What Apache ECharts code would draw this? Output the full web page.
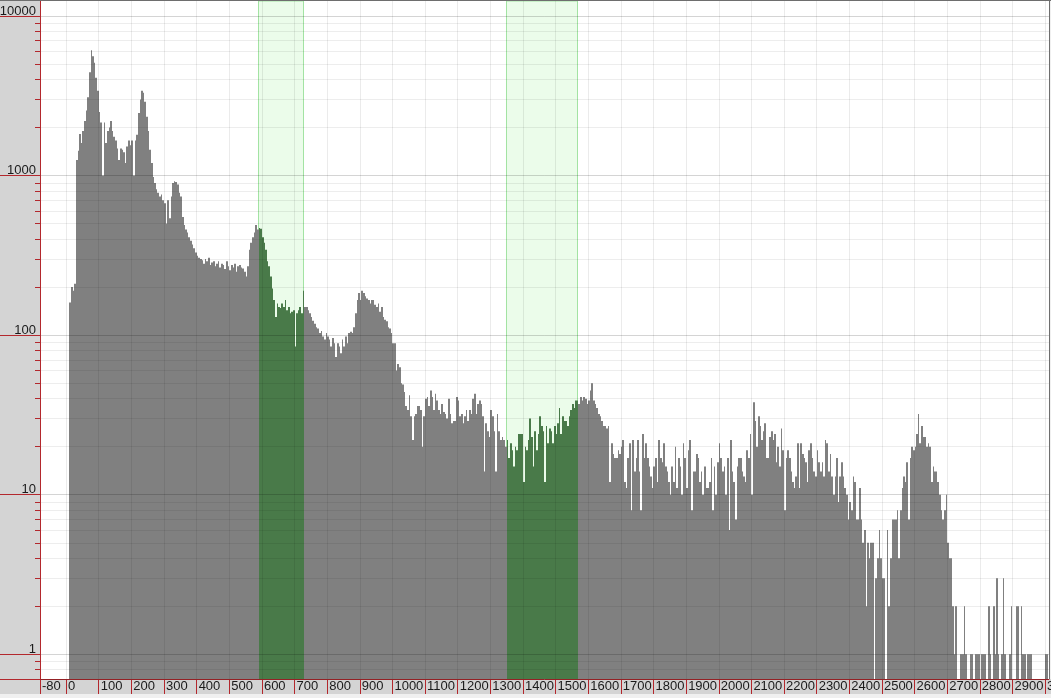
<!DOCTYPE html>
<html>
<head>
<meta charset="utf-8">
<title>Spectrum</title>
<script src="https://cdn.jsdelivr.net/npm/echarts@6/dist/echarts.min.js"></script>
<style>
  html, body { margin: 0; padding: 0; background: #f0f0f0; }
  #chart { width: 1051px; height: 698px; }
</style>
</head>
<body>
<div id="chart"></div>
<script>
// counts per channel (5 units wide)
var counts0 = [ // 0 - 495
  0, 0, 160, 200, 190, 210, 1250, 1430, 1820, 1600,
  1900, 2200, 2560, 3100, 4450, 6100, 5600, 5100, 4100, 3400,
  2500, 2150, 1000, 2150, 1600, 1900, 2000, 2200, 1900, 1750,
  1660, 1480, 1250, 1480, 1450, 1400, 1200, 1520, 1660, 1550,
  1660, 1000, 1660, 1800, 2470, 3000, 3400, 3300, 2900, 2340,
  1900, 1450, 1200, 980, 900, 820, 780, 740, 760, 700,
  670, 500, 700, 540, 740, 900, 920, 910, 880, 780,
  740, 550, 490, 460, 440, 410, 390, 370, 350, 330,
  315, 305, 300, 295, 280, 300, 290, 305, 275, 285,
  290, 270, 280, 290, 265, 280, 275, 260, 290, 270
]
var counts500 = [ // 500 - 995
  255, 275, 265, 280, 250, 270, 275, 265, 262, 250,
  233, 270, 343, 380, 410, 440, 490, 460, 470, 465,
  410, 380, 343, 290, 270, 233, 196, 166, 130, 158,
  150, 148, 158, 150, 166, 143, 150, 137, 140, 143,
  85, 137, 143, 150, 137, 190, 150, 150, 143, 137,
  130, 123, 118, 112, 110, 103, 106, 98, 94, 103,
  98, 94, 85, 96, 89, 73, 89, 85, 77, 94,
  85, 98, 89, 103, 105, 103, 112, 137, 166, 184,
  166, 190, 184, 175, 170, 166, 158, 166, 166, 155,
  150, 158, 140, 150, 130, 125, 122, 112, 110, 103
]
var counts1000 = [ // 1000 - 1495
  89, 89, 60, 66, 63, 50, 49, 44, 36, 34,
  42, 31, 22, 31, 32, 36, 36, 34, 20, 31,
  40, 41, 36, 45, 41, 34, 43, 39, 34, 32,
  37, 33, 32, 30, 40, 32, 28, 29, 29, 41,
  39, 31, 32, 28, 31, 34, 29, 34, 32, 40,
  43, 32, 37, 39, 37, 31, 14, 28, 25, 23,
  34, 31, 25, 14, 32, 25, 22, 23, 22, 20,
  22, 17, 21, 19, 15, 20, 19, 24, 24, 24,
  12, 20, 19, 22, 30, 23, 15, 25, 19, 24,
  31, 27, 25, 12, 27, 21, 26, 25, 21, 27
]
var counts1500 = [ // 1500 - 1995
  24, 28, 35, 24, 31, 29, 29, 27, 31, 34,
  37, 35, 39, 39, 37, 41, 39, 41, 40, 37,
  39, 45, 50, 39, 37, 35, 32, 31, 29, 27,
  27, 26, 27, 12, 21, 18, 17, 17, 19, 18,
  20, 22, 12, 11, 17, 21, 8, 22, 14, 17,
  22, 14, 8, 24, 17, 21, 17, 15, 13, 11,
  15, 17, 12, 22, 17, 16, 21, 15, 14, 12,
  10, 15, 12, 20, 11, 17, 15, 10, 21, 17,
  11, 19, 22, 8, 14, 14, 18, 17, 12, 14,
  10, 15, 11, 11, 12, 17, 8, 15, 10, 16
]
var counts2000 = [ // 2000 - 2495
  21, 17, 14, 15, 10, 17, 6, 22, 14, 12,
  7, 15, 17, 17, 14, 13, 12, 19, 17, 24,
  10, 38, 29, 20, 31, 27, 22, 25, 28, 17,
  17, 23, 25, 22, 24, 16, 20, 15, 26, 19,
  8, 17, 19, 17, 14, 12, 11, 13, 21, 11,
  21, 18, 17, 16, 12, 19, 21, 17, 14, 13,
  19, 16, 14, 16, 13, 22, 21, 14, 18, 13,
  10, 13, 17, 9, 13, 16, 13, 11, 10, 7,
  9, 8, 13, 12, 7, 7, 11, 7, 5, 6,
  2, 5, 4, 5, 5, 0, 3, 4, 6, 4
]
var counts2500 = [ // 2500 - 3010
  3, 3, 0, 6, 2, 4, 7, 7, 7, 8,
  4, 8, 11, 13, 12, 16, 7, 17, 20, 19,
  20, 24, 32, 21, 27, 23, 23, 20, 21, 20,
  12, 15, 14, 14, 12, 10, 8, 7, 8, 10,
  5, 4, 4, 2, 1, 2, 0, 0, 1, 1,
  2, 1, 0, 0, 1, 1, 0, 1, 1, 1,
  0, 1, 1, 1, 0, 2, 1, 0, 2, 1,
  3, 1, 0, 1, 3, 1, 0, 0, 1, 2,
  0, 0, 2, 2, 0, 2, 1, 1, 0, 1,
  1, 1, 0, 0, 0, 0, 0, 0, 0, 0,
  1, 1, 0
]
var binWidth = 5

// regions of interest (highlighted)
var roiRanges = [[590, 730], [1350, 1570]]

// axis ticks
var xTicks = [-80, 0, 100, 200, 300, 400, 500, 600, 700, 800, 900, 1000, 1100, 1200, 1300, 1400,
  1500, 1600, 1700, 1800, 1900, 2000, 2100, 2200, 2300, 2400, 2500, 2600, 2700, 2800, 2900, 3000]
var yDecades = [1, 10, 100, 1000, 10000]
var yMinor = [0.8, 0.9, 2, 3, 4, 5, 6, 7, 8, 9, 20, 30, 40, 50, 60, 70, 80, 90,
  200, 300, 400, 500, 600, 700, 800, 900, 2000, 3000, 4000, 5000, 6000, 7000, 8000, 9000]

var xMin = -80
var xMax = 3012
var countMin = 0.70
var countMax = 12420

var red = '#b3282d'
var font = "'Liberation Sans Narrow', 'Liberation Sans', Arial, sans-serif"

// y is drawn in log10 space
var yMin = Math.log10(countMin)
var yMax = Math.log10(countMax)
var decadeLogs = yDecades.map(function (v) { return Math.log10(v) })
var minorLogs = yMinor.map(function (v) { return Math.log10(v) })

var counts = counts0.concat(counts500, counts1000, counts1500, counts2000, counts2500)
var barData = []
counts.forEach(function (c, i) {
  if (c > 0) {
    barData.push([i * binWidth, (i + 1) * binWidth, Math.log10(c)])
  }
})

function inRoi (x0, x1) {
  return roiRanges.some(function (r) { return x0 >= r[0] && x1 <= r[1] })
}

function renderBar (params, api) {
  var x0 = api.value(0)
  var x1 = api.value(1)
  var p0 = api.coord([x0, api.value(2)])
  var p1 = api.coord([x1, api.value(2)])
  var cs = params.coordSys
  // snap to whole pixels so neighbouring channels don't leave seams
  var left = Math.round(p0[0])
  var right = Math.round(p1[0])
  return {
    type: 'rect',
    shape: { x: left, y: p0[1], width: right - left, height: cs.y + cs.height - p0[1] },
    style: { fill: inRoi(x0, x1) ? '#497a49' : '#808080' }
  }
}

function renderRoi (params, api) {
  var p0 = api.coord([api.value(0), yMax])
  var p1 = api.coord([api.value(1), yMax])
  var cs = params.coordSys
  return {
    type: 'rect',
    shape: { x: Math.round(p0[0]) - 0.5, y: cs.y, width: Math.round(p1[0]) - Math.round(p0[0]), height: cs.height },
    style: { fill: '#ebfcea', stroke: '#a3e3a3', lineWidth: 1 }
  }
}

var chart = echarts.init(document.getElementById('chart'))
chart.setOption({
  backgroundColor: '#f0f0f0',
  animation: false,
  grid: {
    left: 40,
    right: 2,
    top: 1,
    bottom: 19,
    outerBoundsMode: 'none',
    containLabel: false,
    show: true,
    backgroundColor: '#ffffff',
    borderWidth: 0
  },
  graphic: [
    { type: 'rect', z: -1, shape: { x: 0, y: 1, width: 40, height: 693 }, style: { fill: '#d4d4d4' } },
    { type: 'rect', z: -1, shape: { x: 40, y: 679, width: 1011, height: 15 }, style: { fill: '#d4d4d4' } },
    { type: 'rect', z: 100, shape: { x: 0, y: 0, width: 1051, height: 1 }, style: { fill: '#6e6e6e' } },
    { type: 'rect', z: 100, shape: { x: 1049, y: 0, width: 1, height: 679 }, style: { fill: '#6e6e6e' } }
  ],
  xAxis: {
    type: 'value',
    min: xMin,
    max: xMax,
    z: 5,
    axisLine: { onZero: false, lineStyle: { color: red, width: 1 } },
    axisTick: { customValues: xTicks, length: 15, lineStyle: { color: red } },
    axisLabel: {
      customValues: xTicks,
      formatter: function (v) { return String(v) },
      align: 'left',
      margin: 0,
      padding: [0, 0, 0, 2],
      color: '#1a1a1a',
      fontFamily: font,
      fontSize: 13,
      lineHeight: 15
    },
    splitLine: { show: true, lineStyle: { color: 'rgba(0,0,0,0.08)' } }
  },
  yAxis: [
    { // minor ticks / grid
      type: 'value',
      min: yMin,
      max: yMax,
      position: 'left',
      offset: 0,
      z: 5,
      axisLine: { show: true, onZero: false, lineStyle: { color: red } },
      axisTick: { customValues: minorLogs, length: 5, lineStyle: { color: red } },
      axisLabel: { show: false },
      splitLine: { show: true, lineStyle: { color: 'rgba(0,0,0,0.07)' } }
    },
    { // decades
      type: 'value',
      min: yMin,
      max: yMax,
      position: 'left',
      offset: 0,
      z: 6,
      axisLine: { show: true, onZero: false, lineStyle: { color: red } },
      axisTick: { customValues: [yMin].concat(decadeLogs), length: 40, lineStyle: { color: red } },
      axisLabel: {
        customValues: decadeLogs,
        formatter: function (v) { return String(Math.round(Math.pow(10, v))) },
        margin: 4,
        verticalAlign: 'bottom',
        lineHeight: 10,
        color: '#1a1a1a',
        fontFamily: font,
        fontSize: 13
      },
      splitLine: { show: true, lineStyle: { color: 'rgba(0,0,0,0.17)' } }
    }
  ],
  series: [
    {
      name: 'roi',
      type: 'custom',
      z: 1,
      silent: true,
      clip: true,
      renderItem: renderRoi,
      encode: { x: [0, 1] },
      data: roiRanges
    },
    {
      name: 'spectrum',
      type: 'custom',
      z: 2,
      silent: true,
      clip: true,
      renderItem: renderBar,
      encode: { x: [0, 1], y: 2 },
      data: barData
    }
  ]
})
</script>
</body>
</html>
